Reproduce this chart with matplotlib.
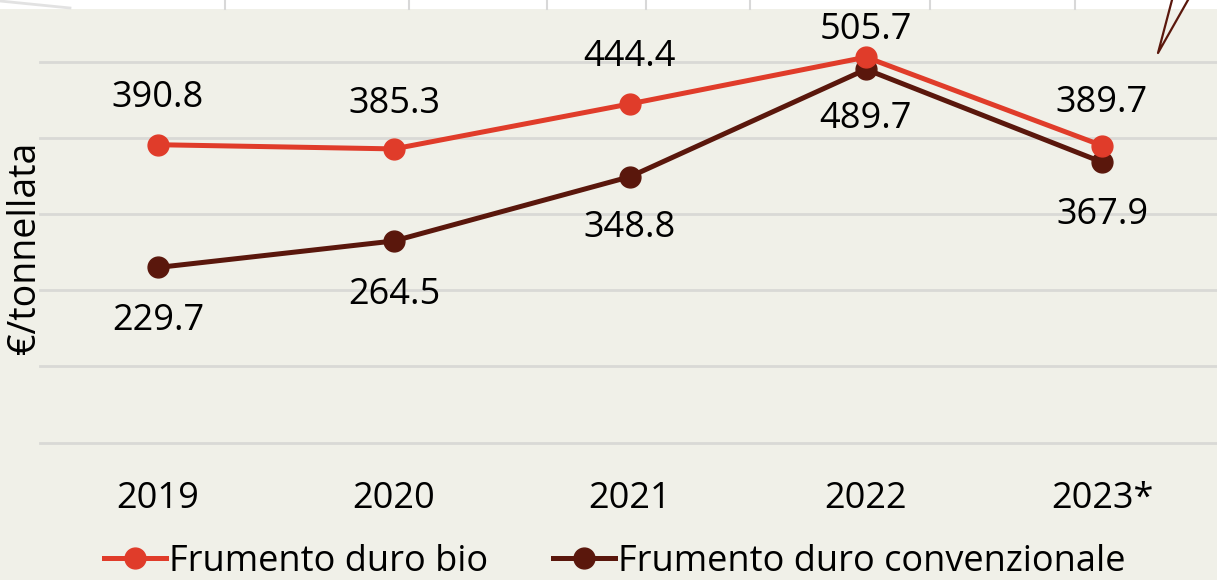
"""
Prezzi frumento duro: bio vs convenzionale (2019-2023*)
"""
import matplotlib
matplotlib.use("Agg")
import matplotlib.pyplot as plt
from matplotlib.lines import Line2D

# ─────────────────────────────────────────────
# DATA
# ─────────────────────────────────────────────
years     = ["2019", "2020", "2021", "2022", "2023*"]
bio       = [390.8, 385.3, 444.4, 505.7, 389.7]
conv      = [229.7, 264.5, 348.8, 489.7, 367.9]
bio_name  = "Frumento duro bio"
conv_name = "Frumento duro convenzionale"
y_label   = "€/tonnellata"

# label offsets in pixels (bio above, conv below)
bio_off   = [47, 45, 47, 27, 43]
conv_off  = [-54, -54, -51, -50, -53]

# ─────────────────────────────────────────────
# STYLE
# ─────────────────────────────────────────────
BG        = "#F0F0E8"
C_BIO     = "#E03C2A"
C_CONV    = "#5A170C"
GRID      = "#D9D9D6"
FS        = 26
plt.rcParams['font.family'] = ['Open Sans', 'DejaVu Sans']

W, H = 1217, 580
fig = plt.figure(figsize=(W / 100, H / 100), dpi=100, facecolor=BG)

# white strip on top with faint decorative lines
fig.patches.append(plt.Rectangle((0, 1 - 9 / H), 1, 9 / H, transform=fig.transFigure,
                                 facecolor="white", edgecolor="none", zorder=0))
for xp in [225, 409, 547, 646, 750, 930, 1075]:
    fig.add_artist(Line2D([xp / W, xp / W], [1 - 9 / H, 1], transform=fig.transFigure,
                          color="#D8D8D8", lw=1.5))
fig.add_artist(Line2D([0, 70 / W], [1 - 1 / H, 1 - 8 / H], transform=fig.transFigure,
                      color="#E2E2E2", lw=2))

# callout fragment top right
fig.add_artist(Line2D([1172 / W, 1158 / W, 1188 / W], [1, 1 - 53 / H, 1],
                      transform=fig.transFigure, color=C_CONV, lw=1.6))

# ─────────────────────────────────────────────
# AXES
# ─────────────────────────────────────────────
ax_left, ax_bottom = 40, 442.5
ax = fig.add_axes([ax_left / W, 1 - ax_bottom / H, 1180 / W, (ax_bottom - 9) / H])
ax.set_facecolor("none")
x = list(range(len(years)))
px_per_100 = 76.2
ax.set_ylim(0, (ax_bottom - 9) / px_per_100 * 100)
ax.set_xlim(-0.5, len(years) - 0.5)

ax.set_yticks([0, 100, 200, 300, 400, 500])
ax.yaxis.grid(True, color=GRID, lw=2)
for gl in ax.get_ygridlines():
    gl.set_clip_on(False)
ax.set_axisbelow(True)
ax.tick_params(axis="y", left=False, labelleft=False)
ax.set_xticks(x)
ax.set_xticklabels(years, fontsize=FS)
ax.tick_params(axis="x", length=0, pad=28)
for s in ax.spines.values():
    s.set_visible(False)

ax.plot(x, conv, color=C_CONV, lw=3.6, marker="o", ms=15, zorder=3)
ax.plot(x, bio, color=C_BIO, lw=3.6, marker="o", ms=15, zorder=4)

for i in x:
    ax.annotate(f"{bio[i]:.1f}", (i, bio[i]), xytext=(0, bio_off[i]),
                textcoords="offset pixels", ha="center", va="center",
                fontsize=FS, color="black", zorder=5)
    ax.annotate(f"{conv[i]:.1f}", (i, conv[i]), xytext=(0, conv_off[i]),
                textcoords="offset pixels", ha="center", va="center",
                fontsize=FS, color="black", zorder=5)

fig.text(25 / W, 1 - 248 / H, y_label, rotation=90, ha="center", va="center",
         fontsize=27, color="black")

handles = [
    Line2D([], [], color=C_BIO, lw=3.6, marker="o", ms=15),
    Line2D([], [], color=C_CONV, lw=3.6, marker="o", ms=15),
]
fig.legend(handles, [bio_name, conv_name], loc="center",
           bbox_to_anchor=(615 / W, 1 - 562 / H), ncol=2, frameon=False,
           fontsize=FS, handlelength=1.7, handletextpad=0.1, columnspacing=1.8,
           borderpad=0)

fig.savefig("out.png", dpi=100, facecolor=BG)
